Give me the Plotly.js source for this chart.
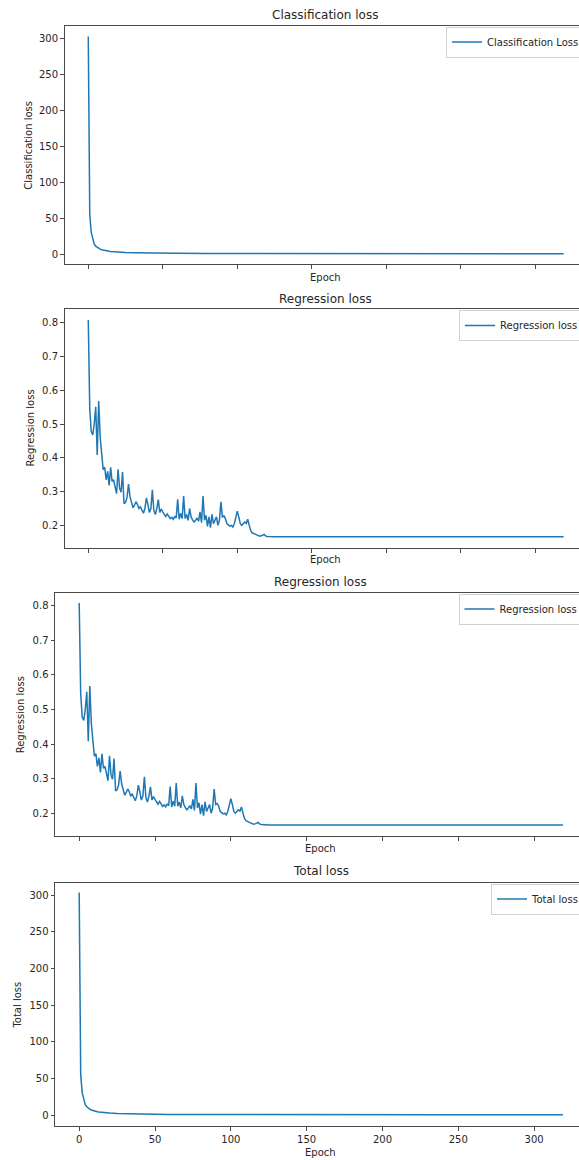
<!DOCTYPE html>
<html>
<head>
<meta charset="utf-8">
<script src="https://cdn.plot.ly/plotly-3.0.1.min.js"></script>
<style>html,body{margin:0;padding:0;background:#fff;}#chart{width:579px;height:1160px;}</style>
</head>
<body>
<div id="chart"></div>
<script>
// ---------------- data ----------------
const clsEpochs = [0,1,2,3,4,5,6,7,8,9,10,11,12,13,14,15,16,17,18,19,20,25,30,35,40,50,60,80,100,130,160,200,240,280,319];
const clsLoss = [303,55,30,19.5,14,11,9.2,7.8,6.8,6.0,5.4,4.9,4.5,4.1,3.8,3.55,3.35,3.15,3.0,2.85,2.7,2.1,1.75,1.5,1.35,1.1,0.95,0.8,0.7,0.62,0.57,0.53,0.5,0.48,0.46];

const regEpochs = [0,1,2,3,4,5,6,7,8,9,10,11,12,13,14,15,16,17,18,19,20,21,22,23,24,25,26,27,28,29,30,31,32,33,34,35,36,37,38,39,40,41,42,43,44,45,46,47,48,49,50,51,52,53,54,55,56,57,58,59,60,61,62,63,64,65,66,67,68,69,70,71,72,73,74,75,76,77,78,79,80,81,82,83,84,85,86,87,88,89,90,91,92,93,94,95,96,97,98,99,100,101,102,103,104,105,106,107,108,109,110,111,112,113,114,115,116,117,118,119,120,125,132,140,148,155,163,170,178,185,193,200,208,215,223,230,238,245,253,260,268,275,283,290,298,305,312,319];
const regLoss = [0.808,0.545,0.478,0.468,0.50,0.551,0.408,0.568,0.46,0.41,
  0.365,0.372,0.335,0.36,0.318,0.372,0.33,0.335,0.31,0.294,
  0.366,0.31,0.298,0.358,0.264,0.268,0.282,0.322,0.285,0.265,
  0.252,0.26,0.27,0.262,0.25,0.255,0.245,0.236,0.25,0.281,
  0.262,0.238,0.25,0.305,0.245,0.232,0.25,0.276,0.238,0.248,
  0.24,0.232,0.226,0.234,0.228,0.22,0.224,0.218,0.226,0.222,
  0.277,0.218,0.235,0.22,0.287,0.22,0.232,0.215,0.25,0.225,
  0.216,0.21,0.215,0.222,0.212,0.24,0.208,0.287,0.215,0.23,
  0.197,0.225,0.193,0.233,0.205,0.215,0.225,0.2,0.215,0.27,
  0.225,0.228,0.22,0.205,0.2,0.198,0.2,0.195,0.205,0.225,
  0.242,0.225,0.205,0.2,0.204,0.21,0.206,0.218,0.2,0.185,
  0.178,0.175,0.174,0.172,0.17,0.168,0.169,0.17,0.173,0.169,
  0.167,0.166,0.166,0.167,0.166,0.167,0.166,0.165,0.166,0.167,0.167,0.166,0.166,0.167,0.166,0.166,0.167,0.166,0.165,0.166,0.167,0.167,0.166,0.167,0.166,0.166,0.165,0.166];

const totEpochs = [0,1,2,3,4,5,6,7,8,9,10,11,12,13,14,15,16,17,18,19,20,25,30,35,40,50,60,80,100,130,160,200,240,280,319];
const totLoss = [303.8,55.5,30.5,20,14.5,11.6,9.6,8.4,7.2,6.4,5.8,5.25,4.85,4.45,4.15,3.9,3.7,3.5,3.3,3.15,3.0,2.35,2.0,1.75,1.6,1.32,1.17,1.0,0.9,0.79,0.74,0.7,0.67,0.65,0.63];

const xTicks = [0,50,100,150,200,250,300];
const bigTicks = [0,50,100,150,200,250,300];
const regTicks = [0.2,0.3,0.4,0.5,0.6,0.7,0.8];

const panelTitles = ["Classification loss","Regression loss","Regression loss","Total loss"];
const yTitles = ["Classification loss","Regression loss","Regression loss","Total loss"];
const seriesNames = ["Classification Loss","Regression loss","Regression loss","Total loss"];

// ---------------- layout helpers ----------------
const W = 579, H = 1160;
const px = v => v / W;
const py = v => 1 - v / H;
const FONT = "DejaVu Sans, Liberation Sans, sans-serif";
const TXT = "#262626";
const AX = "#4a4a4a";
const C0 = "#1f77b4";

const panels = [
  {x: clsEpochs, y: clsLoss, left: 64.5, top: 26, bottom: 264, xr: [-15.95, 329.3], yr: [-13.9, 317.7], yt: bigTicks, fmt: "", showX: false,
   title: [325, 15], xlab: [325, 277], ylab: [27.7, 145], leg: [446, 26.5]},
  {x: regEpochs, y: regLoss, left: 64.5, top: 309, bottom: 548, xr: [-15.95, 329.3], yr: [0.133, 0.8405], yt: regTicks, fmt: ".1f", showX: false,
   title: [325, 299], xlab: [325, 559], ylab: [30.6, 428], leg: [459, 310]},
  {x: regEpochs, y: regLoss, left: 55, top: 593, bottom: 836, xr: [-15.95, 329.6], yr: [0.134, 0.8367], yt: regTicks, fmt: ".1f", showX: false,
   title: [320.5, 582], xlab: [320.5, 848], ylab: [20.3, 715], leg: [458.5, 593.5]},
  {x: totEpochs, y: totLoss, left: 55, top: 883, bottom: 1126, xr: [-15.95, 329.6], yr: [-14.6, 316.8], yt: bigTicks, fmt: "", showX: true,
   title: [320.5, 871], xlab: [320.5, 1152], ylab: [16.6, 1005], leg: [491, 883.5]}
];

const data = [];
const layout = {
  width: W, height: H,
  margin: {l: 0, r: 0, t: 0, b: 0, autoexpand: false},
  paper_bgcolor: "#fff", plot_bgcolor: "#fff",
  font: {family: FONT, size: 10, color: TXT},
  annotations: [],
  showlegend: true
};

panels.forEach((p, i) => {
  const n = i + 1;
  const xa = n === 1 ? "xaxis" : "xaxis" + n;
  const ya = n === 1 ? "yaxis" : "yaxis" + n;
  const lg = n === 1 ? "legend" : "legend" + n;
  data.push({
    x: p.x, y: p.y, type: "scatter", mode: "lines",
    name: seriesNames[i],
    line: {color: C0, width: 1.5},
    xaxis: n === 1 ? "x" : "x" + n,
    yaxis: n === 1 ? "y" : "y" + n,
    legend: lg,
    hoverinfo: "skip"
  });
  layout[xa] = {
    domain: [px(p.left), 1], range: p.xr, anchor: n === 1 ? "y" : "y" + n,
    showline: true, mirror: true, linecolor: AX, linewidth: 1,
    ticks: "outside", ticklen: 3.5, tickwidth: 1, tickcolor: AX,
    tickmode: "array", tickvals: xTicks, showticklabels: p.showX,
    tickfont: {family: FONT, size: 10, color: TXT},
    showgrid: false, zeroline: false, fixedrange: true
  };
  layout[ya] = {
    domain: [py(p.bottom), py(p.top)], range: p.yr, anchor: n === 1 ? "x" : "x" + n,
    showline: true, mirror: false, linecolor: AX, linewidth: 1,
    ticks: "outside", ticklen: 3.5, tickwidth: 1, tickcolor: AX,
    tickmode: "array", tickvals: p.yt, tickformat: p.fmt,
    tickfont: {family: FONT, size: 10, color: TXT},
    showgrid: false, zeroline: false, fixedrange: true
  };
  layout[lg] = {
    x: px(p.leg[0]), xanchor: "left", y: py(p.leg[1]), yanchor: "top",
    bgcolor: "rgba(255,255,255,0.9)", bordercolor: "#d0d0d0", borderwidth: 1,
    font: {family: FONT, size: 10, color: TXT}
  };
  layout.annotations.push(
    {text: panelTitles[i], xref: "paper", yref: "paper", x: px(p.title[0]), y: py(p.title[1]),
     xanchor: "center", yanchor: "middle", showarrow: false, font: {family: FONT, size: 12, color: TXT}},
    {text: "Epoch", xref: "paper", yref: "paper", x: px(p.xlab[0]), y: py(p.xlab[1]),
     xanchor: "center", yanchor: "middle", showarrow: false, font: {family: FONT, size: 10, color: TXT}},
    {text: yTitles[i], xref: "paper", yref: "paper", x: px(p.ylab[0]), y: py(p.ylab[1]),
     xanchor: "center", yanchor: "middle", textangle: -90, showarrow: false, font: {family: FONT, size: 10, color: TXT}}
  );
});

Plotly.newPlot("chart", data, layout, {displayModeBar: false, staticPlot: true});
</script>
</body>
</html>
